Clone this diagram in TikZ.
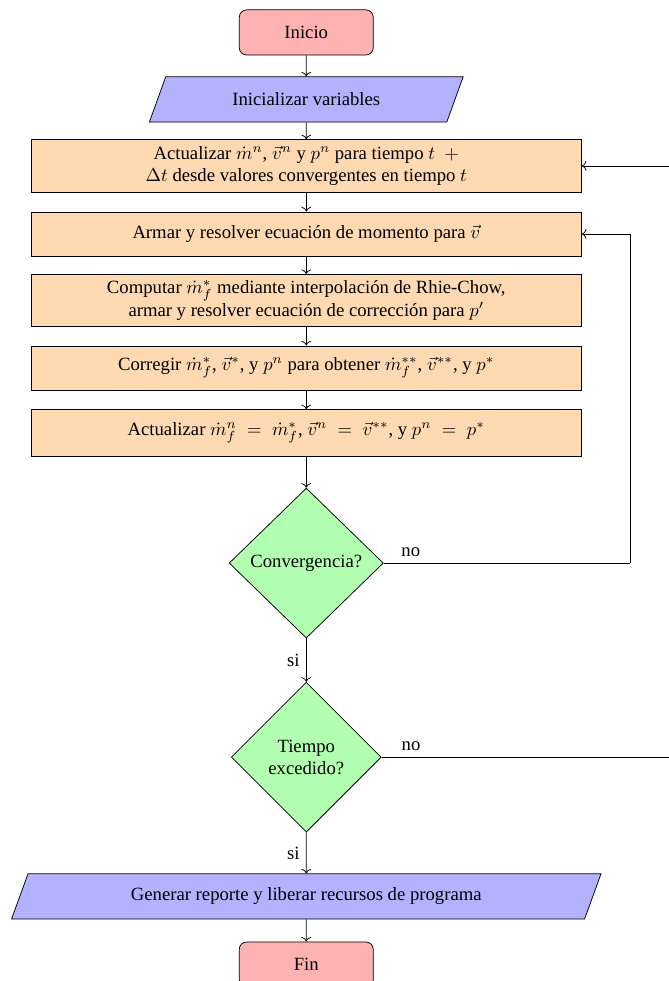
\documentclass[tikz,border=0pt]{standalone}
\usepackage{amsmath}
\usepackage{fontspec}
\setmainfont{Liberation Serif}
\usetikzlibrary{positioning,calc,shapes.geometric,arrows.meta}

\begin{document}
\begin{tikzpicture}[
	% Estilos de los bloques del diagrama
	inicio_fin/.style={
		rectangle, rounded corners, draw, fill=red!30,
		minimum width=2.52cm, minimum height=0.85cm
	},
	entrada/.style={
		trapezium, trapezium left angle=70, trapezium right angle=110,
		trapezium stretches=true, draw, fill=blue!30,
		minimum height=0.85cm
	},
	proceso/.style={
		rectangle, draw, fill=orange!30, align=center,
		minimum width=10.35cm, minimum height=0.83cm
	},
	decision/.style={
		diamond, draw, fill=green!30, align=center, inner sep=0pt,
		minimum width=2.9cm, minimum height=2.82cm
	},
	flecha/.style={draw, ->},
	etiqueta/.style={draw=none, fill=none}
	]
	\useasboundingbox (-5.76,0) rectangle (6.82,-18.45);
	
	% Bloques principales (columna central)
	\node[inicio_fin] (inicio) at (0,-0.61) {Inicio};
	\node[entrada, minimum width=5.93cm] (init) at (0,-1.87) {Inicializar variables};
	\node[proceso] (actualizar) at (0,-3.12)
		{Actualizar $\dot{m}^n$, $\vec{v}^n$ y $p^n$ para tiempo $t$\ \ $+$\\
		 $\Delta t$ desde valores convergentes en tiempo $t$};
	\node[proceso] (momento) at (0,-4.40)
		{Armar y resolver ecuación de momento para $\vec{v}$};
	\node[proceso] (rhiechow) at (0,-5.65)
		{Computar $\dot{m}_f^*$ mediante interpolación de Rhie-Chow,\\
		 armar y resolver ecuación de corrección para $p'$};
	\node[proceso] (corregir) at (0,-6.92)
		{Corregir $\dot{m}_f^*$, $\vec{v}^*$, y $p^n$ para obtener $\dot{m}_f^{**}$, $\vec{v}^{**}$, y $p^*$};
	\node[proceso, minimum height=0.87cm] (nuevos) at (0,-8.14)
		{Actualizar $\dot{m}_f^n \;=\; \dot{m}_f^*$, $\vec{v}^n \;=\; \vec{v}^{**}$, y $p^n \;=\; p^*$};
	\node[decision] (conv) at (0,-10.59) {Convergencia?};
	\node[decision, minimum width=2.82cm] (tiempo) at (0,-14.24) {Tiempo\\excedido?};
	\node[entrada, minimum width=11.10cm] (reporte) at (0,-16.86)
		{Generar reporte y liberar recursos de programa};
	\node[inicio_fin] (fin) at (0,-18.14) {Fin};
	
	% Flechas de la columna central
	\foreach \a/\b in {inicio/init, init/actualizar, actualizar/momento,
		momento/rhiechow, rhiechow/corregir, corregir/nuevos, nuevos/conv,
		reporte/fin}
		\draw[flecha] (\a) -- (\b);
	\draw[flecha] (conv) -- node[etiqueta, left] {si} (tiempo);
	\draw[flecha] (tiempo) -- node[etiqueta, left] {si} (reporte);
	
	% Lazos de retorno a la derecha
	\coordinate (r1) at (6.09,0);
	\coordinate (r2) at (6.95,0);
	\draw (conv.east) -- node[etiqueta, above, pos=0.11] {no} (conv.east -| r1);
	\draw[flecha] (conv.east -| r1) |- (momento.east);
	\draw (tiempo.east) -- node[etiqueta, above, pos=0.1] {no} (tiempo.east -| r2);
	\draw[flecha] (tiempo.east -| r2) |- (actualizar.east);
	
\end{tikzpicture}
\end{document}
